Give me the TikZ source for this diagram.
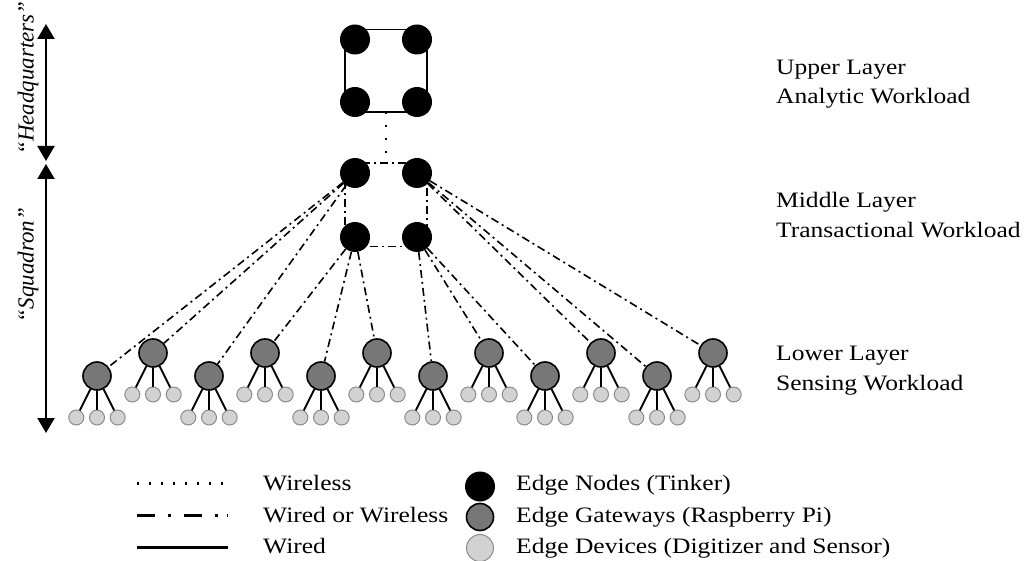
\documentclass[tikz,border=0pt]{standalone}
\usepackage{fontspec}
\setmainfont{Liberation Serif}[FakeStretch=1.16]
\newfontfamily\sidefont{Liberation Serif}
\usetikzlibrary{arrows.meta,calc,backgrounds}
\definecolor{gwfill}{HTML}{777777}
\definecolor{devfill}{HTML}{D2D2D2}
\definecolor{devline}{HTML}{8C8C8C}

\begin{document}
\begin{tikzpicture}[x=1pt,y=-1pt,
  lbl/.style={font=\fontsize{22}{26}\selectfont, inner sep=0, anchor=base west},
  edgenode/.style={circle, fill=black, minimum size=30pt, inner sep=0},
  gateway/.style={circle, fill=gwfill, draw=black, line width=1.6pt, minimum size=28pt, inner sep=0},
  device/.style={circle, fill=devfill, draw=devline, line width=1pt, minimum size=15pt, inner sep=0},
  wireless/.style={line width=2.4pt, dash pattern=on 2.4pt off 10.5pt},
  wiredwl/.style={line width=1.6pt, dash pattern=on 8pt off 4pt on 2pt off 4pt},
  wired/.style={line width=1.9pt},
  keydot/.style={line width=2.2pt, dash pattern=on 2.2pt off 9.8pt},
  keywl/.style={line width=3pt, dash pattern=on 18pt off 13pt on 2.5pt off 13.5pt on 18pt off 13pt on 2.5pt off 9pt on 2.5pt off 20pt},
  keywired/.style={line width=3pt},
  span/.style={line width=2.2pt, {Triangle[width=17pt,length=15pt]}-{Triangle[width=17pt,length=15pt]}},
  side/.style={font=\sidefont\itshape\fontsize{23}{27}\selectfont, rotate=90, inner sep=0}
]
\useasboundingbox (0,0) rectangle (1033,561);

% upper layer
\node[edgenode] (t1) at (355,39.5) {};
\node[edgenode] (t2) at (417,39.5) {};
\node[edgenode] (t3) at (355,102) {};
\node[edgenode] (t4) at (417,102) {};
% middle layer
\node[edgenode] (m1) at (355,173) {};
\node[edgenode] (m2) at (417,173) {};
\node[edgenode] (m3) at (355,237) {};
\node[edgenode] (m4) at (417,237) {};

\begin{scope}[on background layer]
  \draw[wired] ($(t1)+(-10,-10)$) rectangle ($(t4)+(10,10)$);
  \draw[wiredwl] ($(m1)+(-10,-10)$) rectangle ($(m4)+(10,9.5)$);
  \coordinate (upbot) at ($(t3)!0.5!(t4)+(0,10)$);
  \coordinate (midtop) at ($(m1)!0.5!(m2)+(0,-10)$);
  \draw[wireless] (upbot) -- (midtop);
\end{scope}

% lower layer: gateways with their devices
\foreach \k in {0,...,11} {
  \pgfmathsetmacro\gx{97+56*\k}
  \pgfmathsetmacro\gy{ifthenelse(mod(\k,2)==1,353,376)}
  \node[gateway] (g\k) at (\gx,\gy) {};
  \foreach \d/\dx in {a/-20.7,b/0,c/20.7} {
    \node[device] (d\k\d) at (\gx+\dx,\gy+41.5) {};
    \draw[wired] (g\k) -- (d\k\d);
  }
}

% uplinks from gateways to the middle layer
\foreach \g in {0,1,2} \draw[wiredwl] (m1) -- (g\g);
\foreach \g in {3,4,5} \draw[wiredwl] (m3) -- (g\g);
\foreach \g in {6,7,8} \draw[wiredwl] (m4) -- (g\g);
\foreach \g in {9,10,11} \draw[wiredwl] (m2) -- (g\g);

% layer labels
\node[lbl] (u1) at (776,75) {Upper Layer};
\node[lbl] (u2) at (776,104) {Analytic Workload};
\node[lbl] (c1) at (776,208) {Middle Layer};
\node[lbl] (c2) at (776,238) {Transactional Workload};
\node[lbl] (b1) at (776,360) {Lower Layer};
\node[lbl] (b2) at (776,390) {Sensing Workload};

% side spans
\coordinate (hqtop) at (46,24);
\coordinate (hqbot) at (46,161);
\coordinate (sqtop) at (46,164);
\coordinate (sqbot) at (46,433);
\draw[span] (hqtop) -- (hqbot);
\draw[span] (sqtop) -- (sqbot);
\node[side] (hq) at (28,78) {“Headquarters”};
\node[side] (sq) at (28,265) {“Squadron”};

% legend
\coordinate (k1a) at (137,483.5); \coordinate (k1b) at (228,483.5);
\coordinate (k2a) at (137,515);   \coordinate (k2b) at (228,515);
\coordinate (k3a) at (137,547);   \coordinate (k3b) at (228,547);
\draw[keydot] (k1a) -- (k1b);
\draw[keywl] (k2a) -- (k2b);
\draw[keywired] (k3a) -- (k3b);
\node[lbl] (kt1) at (263,490) {Wireless};
\node[lbl] (kt2) at (263,522) {Wired or Wireless};
\node[lbl] (kt3) at (263,553) {Wired};
\node[edgenode] (kc1) at (480,486.5) {};
\node[gateway, minimum size=27pt] (kc2) at (480,517) {};
\node[device, minimum size=27pt] (kc3) at (480,548) {};
\node[lbl] (ks1) at (516,490) {Edge Nodes (Tinker)};
\node[lbl] (ks2) at (516,522) {Edge Gateways (Raspberry Pi)};
\node[lbl] (ks3) at (516,553) {Edge Devices (Digitizer and Sensor)};
\end{tikzpicture}
\end{document}
